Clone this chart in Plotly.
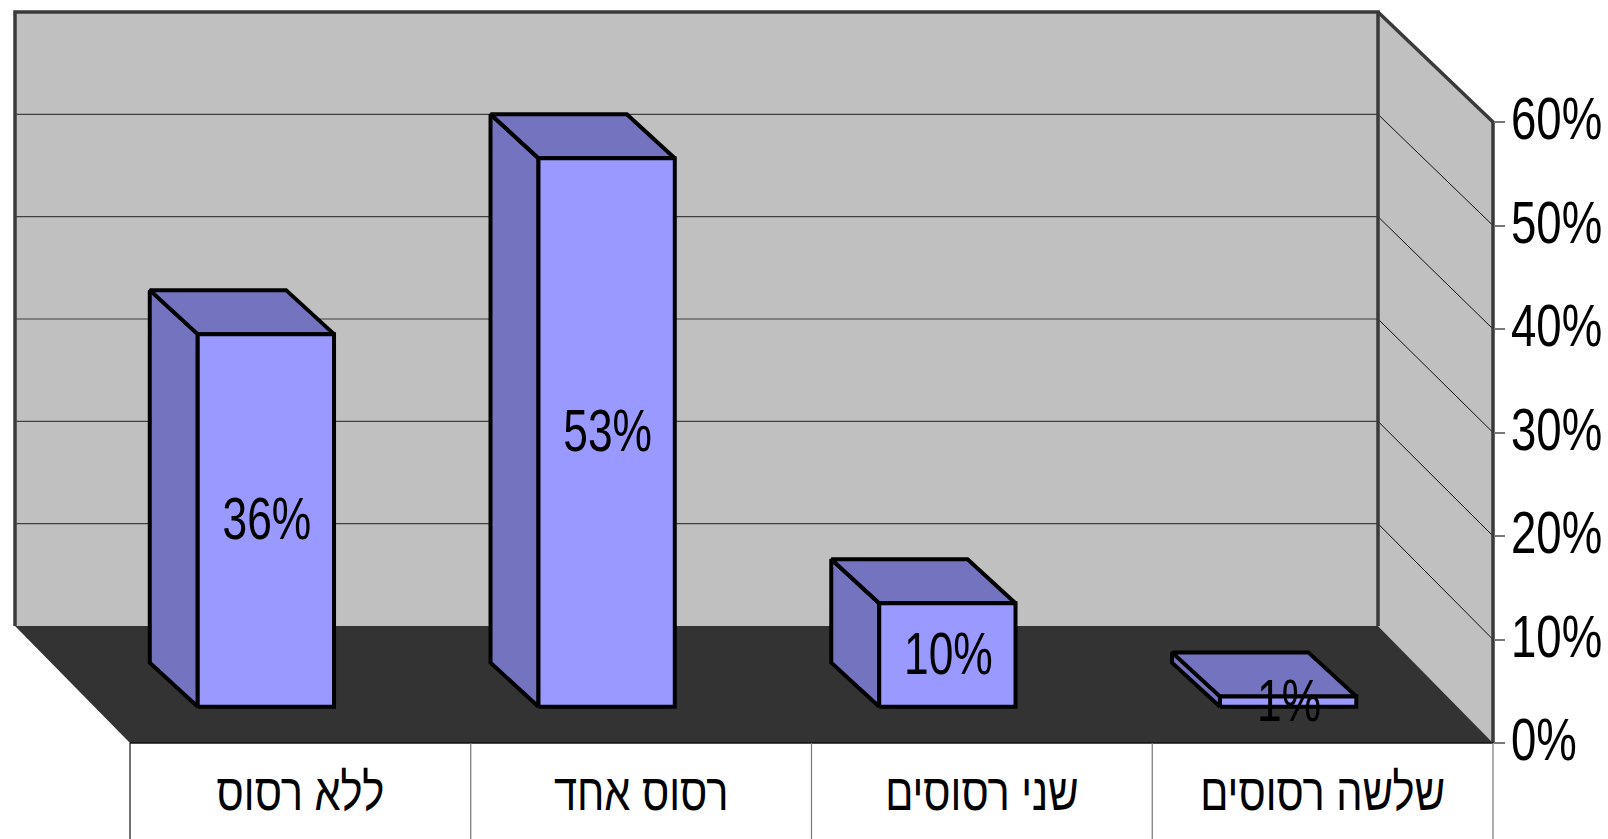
import plotly.graph_objects as go

categories = ["ללא רסוס", "רסוס אחד", "שני רסוסים", "שלשה רסוסים"]
values = [36, 53, 10, 1]
value_labels = ["36%", "53%", "10%", "1%"]
y_ticks = [0, 10, 20, 30, 40, 50, 60]
y_tick_labels = ["0%", "10%", "20%", "30%", "40%", "50%", "60%"]

W, H = 1608, 839
FX0, FY0 = 130.0, 743.0      # pixel of front-left floor corner
PX_CAT = (1493 - 130) / 4
PX_VAL = (743 - 122) / 60
DEPTH_X = -115 / PX_CAT      # wall depth, in category units
DEPTH_Y = 117 / PX_VAL       # wall depth, in value units
BACK_SCALE = 614 / 621       # back wall is slightly shorter than the front axis
BAR_DX0, BAR_DX1 = 0.30, 0.717
BAR_DY0, BAR_DY1 = 0.31, 0.686
BAR_HALF = 0.2
FONT = "Liberation Sans, Arial, sans-serif"
C_WALL, C_FLOOR, C_EDGE = "#C0C0C0", "#333333", "#3A3A3A"
C_FRONT, C_SIDE = "#9999FF", "#7373BF"


def P(c, v, d=0.0):
    """Point on a wall or the floor, at depth d (0 front, 1 back)."""
    return c + d * DEPTH_X, v * (1 - d * (1 - BACK_SCALE)) + d * DEPTH_Y


def B(c, v, back=False):
    """Point on a bar: front face or back face."""
    dx, dy = (BAR_DX1, BAR_DY1) if back else (BAR_DX0, BAR_DY0)
    return c + dx * DEPTH_X, v + dy * DEPTH_Y


def poly(pts, fill=None, line="black", lw=0.0):
    xs = [p[0] for p in pts]
    ys = [p[1] for p in pts]
    kw = {}
    if fill:
        kw = dict(fill="toself", fillcolor=fill)
        xs.append(xs[0])
        ys.append(ys[0])
    return go.Scatter(x=xs, y=ys, mode="lines", line=dict(color=line, width=lw),
                      hoverinfo="skip", showlegend=False, **kw)


fig = go.Figure()
n = len(categories)
top = y_ticks[-1]

# walls and floor
fig.add_trace(poly([P(0, 0, 1), P(n, 0, 1), P(n, top, 1), P(0, top, 1)], C_WALL))
fig.add_trace(poly([P(n, 0, 1), P(n, 0, 0), P(n, top, 0), P(n, top, 1)], C_WALL))
fig.add_trace(poly([P(0, 0, 0), P(n, 0, 0), P(n, 0, 1), P(0, 0, 1)], C_FLOOR))

# gridlines
for t in y_ticks[1:-1]:
    fig.add_trace(poly([P(0, t, 1), P(n, t, 1)], line="#404040", lw=1.2))
    fig.add_trace(poly([P(n, t, 1), P(n, t, 0)], line="#111111", lw=1))

# wall edges
fig.add_trace(poly([P(0, 0, 1), P(0, top, 1), P(n, top, 1), P(n, 0, 1)], line=C_EDGE, lw=3.5))
fig.add_trace(poly([P(n, top, 1), P(n, top, 0), P(n, 0, 0)], line=C_EDGE, lw=3.5))

# category separators and floor front edge
fig.add_trace(poly([P(0, 0), P(n, 0)], line="#111111", lw=1.5))
for i in range(n + 1):
    fig.add_trace(poly([(i, 0), (i, -(H - FY0) / PX_VAL)],
                       line="#111111" if i == 0 else "#777777", lw=1.2))

# bars
for i, v in enumerate(values):
    l, r = i + 0.5 - BAR_HALF, i + 0.5 + BAR_HALF
    side = [B(l, 0), B(l, v), B(l, v, True), B(l, 0, True)]
    roof = [B(l, v), B(r, v), B(r, v, True), B(l, v, True)]
    front = [B(l, 0), B(r, 0), B(r, v), B(l, v)]
    fig.add_trace(poly(side, C_SIDE, lw=4))
    fig.add_trace(poly(roof, C_SIDE, lw=4))
    fig.add_trace(poly(front, C_FRONT, lw=4))

# value labels
lx = [B(i + 0.5, v / 2)[0] for i, v in enumerate(values)]
ly = [B(i + 0.5, v / 2)[1] for i, v in enumerate(values)]
fig.add_trace(go.Scatter(x=lx, y=ly, mode="text", text=value_labels,
                         textposition="middle center",
                         textfont=dict(family=FONT, size=60, color="black"),
                         hoverinfo="skip", showlegend=False))

fig.update_layout(
    width=W, height=H, margin=dict(l=0, r=0, t=0, b=0),
    paper_bgcolor="white", plot_bgcolor="white", showlegend=False,
    xaxis=dict(
        range=[-FX0 / PX_CAT, (W - FX0) / PX_CAT], domain=[0, 1], automargin=False,
        anchor="free", position=(H - FY0) / H, side="bottom",
        tickmode="array", tickvals=[i + 0.5 for i in range(n)], ticktext=categories,
        ticks="", ticklabelstandoff=14, showgrid=False, zeroline=False, showline=False,
        tickfont=dict(family=FONT, size=52, color="black"),
    ),
    yaxis=dict(
        range=[-(H - FY0) / PX_VAL, FY0 / PX_VAL], domain=[0, 1], automargin=False,
        anchor="free", position=1493 / W, side="right",
        tickmode="array", tickvals=y_ticks, ticktext=y_tick_labels,
        ticks="outside", ticklen=11, tickcolor="#777777", tickwidth=2,
        showgrid=False, zeroline=False, showline=False,
        tickfont=dict(family=FONT, size=60, color="black"),
    ),
)

# The reference's type is horizontally condensed; squeeze the real text elements.
post = """
document.body.style.margin='0';document.body.style.overflow='hidden';
function squeeze(sel,s,pin,dx,dy){document.querySelectorAll(sel).forEach(function(t){
  var b=t.getBBox();var c=pin==='left'?b.x:b.x+b.width/2;
  t.setAttribute('transform',(t.getAttribute('transform')||'')+' translate('+(c+dx)+','+dy+') scale('+s+',1) translate('+(-c)+',0)');
});}
squeeze('.xtick text',0.80,'mid',0,0);
squeeze('.ytick text',0.76,'left',-6,-4);
squeeze('.textpoint text',0.74,'mid',1,4);
"""
fig.write_html("out.html", post_script=post, config={"displayModeBar": False})
